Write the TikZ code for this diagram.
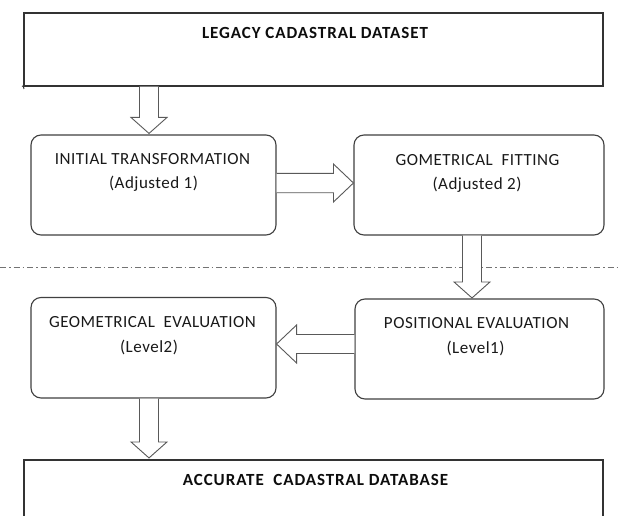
\documentclass[tikz,border=0pt]{standalone}
\usepackage{fontspec}
\setmainfont{Carlito}
\newfontfamily\regf[LetterSpace=3]{Carlito}
\newfontfamily\titlef[LetterSpace=5.5]{Carlito}
\usetikzlibrary{calc}
\tikzset{
  sqbox/.style={draw=black!80, line width=1.1pt, inner sep=0pt},
  rbox/.style={draw=black!75, line width=1.1pt, rounded corners=10pt, inner sep=0pt},
  blockarrow/.style={draw=black!65, line width=0.9pt, fill=white, line join=miter},
  txt/.style={font=\regf\fontsize{17}{20}\selectfont, text=black!90, inner sep=0pt},
  btxt/.style={font=\titlef\bfseries\fontsize{17}{20}\selectfont, text=black!95, inner sep=0pt},
  sep/.style={draw=black!55, line width=0.9pt, dash pattern=on 6pt off 3pt on 1.5pt off 3pt}
}
% vertical block arrow: start (shaft base), end (tip)
\newcommand\downblock[2]{%
  \draw[blockarrow] let \p1=(#1), \p2=(#2) in
    (\x1-9.5pt,\y1) -- (\x1-9.5pt,\y2+16pt) -- (\x1-18pt,\y2+16pt) -- (\x2,\y2)
    -- (\x1+18pt,\y2+16pt) -- (\x1+9.5pt,\y2+16pt) -- (\x1+9.5pt,\y1);}
\newcommand\rightblock[2]{%
  \draw[blockarrow] let \p1=(#1), \p2=(#2) in
    (\x1,\y1+9.7pt) -- (\x2-20pt,\y1+9.7pt) -- (\x2-20pt,\y1+19pt) -- (\x2,\y2)
    -- (\x2-20pt,\y1-19pt) -- (\x2-20pt,\y1-9.7pt) -- (\x1,\y1-9.7pt);}
\newcommand\leftblock[2]{%
  \draw[blockarrow] let \p1=(#1), \p2=(#2) in
    (\x1,\y1+9.5pt) -- (\x2+20pt,\y1+9.5pt) -- (\x2+20pt,\y1+19pt) -- (\x2,\y2)
    -- (\x2+20pt,\y1-19pt) -- (\x2+20pt,\y1-9.5pt) -- (\x1,\y1-9.5pt);}
\begin{document}
\begin{tikzpicture}[x=1pt,y=-1pt]
\useasboundingbox (0,0) rectangle (621,516);
\clip (0,0) rectangle (621,516);
\fill[white] (0,0) rectangle (621,516);

% separator
\coordinate (sepL) at (0,267.5);
\coordinate (sepR) at (621,267.5);
\draw[sep] (sepL) -- (sepR);

% boxes
\node[sqbox, minimum width=579pt, minimum height=73pt] (legacy) at (313.5,49.5) {};
\node[rbox, minimum width=245pt, minimum height=100pt] (init) at (153.5,185) {};
\node[rbox, minimum width=250pt, minimum height=100pt] (gfit) at (479,185) {};
\node[rbox, minimum width=249pt, minimum height=100pt] (pos) at (479.5,349) {};
\node[rbox, minimum width=245pt, minimum height=100.5pt] (geval) at (153.5,347.75) {};
\node[sqbox, minimum width=579pt, minimum height=110pt] (acc) at (313.5,515) {};
\coordinate (tickA) at (22,86);
\coordinate (tickB) at (24,89);
\draw[black!80, line width=1pt] (tickA) -- (legacy.south west) -- (tickB);

% texts
\node[btxt] (t1) at (315,33) {LEGACY CADASTRAL DATASET};
\node[txt] (t2a) at (152.5,159.5) {INITIAL TRANSFORMATION};
\node[txt] (t2b) at (153.5,184) {(Adjusted 1)};
\node[txt] (t3a) at (477.5,160.5) {GOMETRICAL\ \ FITTING};
\node[txt] (t3b) at (477,185) {(Adjusted 2)};
\node[txt] (t4a) at (476.5,323.5) {POSITIONAL EVALUATION};
\node[txt] (t4b) at (475.5,348) {(Level1)};
\node[txt] (t5a) at (152.5,322) {GEOMETRICAL\ \ EVALUATION};
\node[txt] (t5b) at (149,347.5) {(Level2)};
\node[btxt] (t6) at (315.5,480) {ACCURATE\ \ CADASTRAL DATABASE};

% arrows
\coordinate (a1s) at (legacy.south -| 149,0);
\coordinate (a1e) at ($(init.north -| 149,0)+(0,-1)$);
\downblock{a1s}{a1e}
\coordinate (a2s) at (init.east |- 0,183);
\coordinate (a2e) at (gfit.west |- 0,183);
\rightblock{a2s}{a2e}
\coordinate (a3s) at (gfit.south -| 472,0);
\coordinate (a3e) at ($(pos.north -| 472,0)+(0,-0.5)$);
\downblock{a3s}{a3e}
\coordinate (a4s) at (pos.west |- 0,344);
\coordinate (a4e) at (geval.east |- 0,344);
\leftblock{a4s}{a4e}
\coordinate (a5s) at (geval.south -| 149,0);
\coordinate (a5e) at ($(acc.north -| 149,0)+(0,-1.5)$);
\downblock{a5s}{a5e}
\end{tikzpicture}
\end{document}
